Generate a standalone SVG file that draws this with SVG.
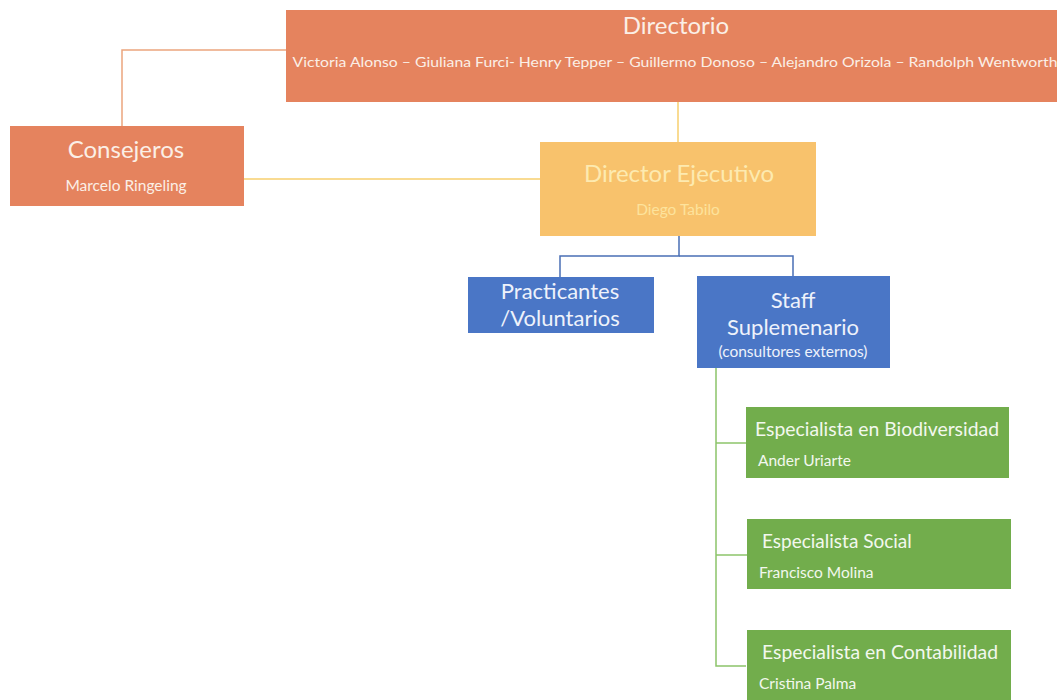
<svg xmlns="http://www.w3.org/2000/svg" width="1057" height="700" viewBox="0 0 1057 700">
<style>
text{font-family:"Lato","Liberation Sans",sans-serif;fill:#fbefe6;text-anchor:middle}
.t{font-size:24px}
.s{font-size:15.5px}
.g text{text-anchor:start;fill:#f2f8ee}
.conn line,.conn polyline{fill:none;stroke-width:1.5}
</style>
<rect width="1057" height="700" fill="#ffffff"/>
<g class="conn">
<polyline points="286,50 122,50 122,126" stroke="#eba57e"/>
<line x1="678" y1="102" x2="678" y2="142" stroke="#f7cf6e"/>
<line x1="244" y1="179" x2="540" y2="179" stroke="#f7cf6e"/>
<polyline points="679,236 679,256 560,256 560,277" stroke="#4a6fb5"/>
<polyline points="679,256 793,256 793,276" stroke="#4a6fb5"/>
<polyline points="716,368 716,666 746,666" stroke="#8cc46a"/>
<line x1="716" y1="443" x2="746" y2="443" stroke="#8cc46a"/>
<line x1="716" y1="555" x2="747" y2="555" stroke="#8cc46a"/>
</g>
<g id="directorio">
<rect x="286" y="10" width="780" height="92" fill="#e5835e"/>
<text class="t" x="676" y="34">Directorio</text>
<text x="675" y="67" style="font-size:14px" textLength="765" lengthAdjust="spacingAndGlyphs">Victoria Alonso – Giuliana Furci- Henry Tepper – Guillermo Donoso – Alejandro Orizola – Randolph Wentworth</text>
</g>
<g id="consejeros">
<rect x="10" y="126" width="234" height="80" fill="#e5835e"/>
<text class="t" x="126" y="158">Consejeros</text>
<text class="s" x="126" y="191">Marcelo Ringeling</text>
</g>
<g id="director-ejecutivo">
<rect x="540" y="142" width="276" height="94" fill="#f8c26c"/>
<text class="t" x="679" y="182" style="fill:#fdeab0">Director Ejecutivo</text>
<text class="s" x="678" y="215" style="fill:#fde39c">Diego Tabilo</text>
</g>
<g id="practicantes">
<rect x="468" y="277" width="186" height="56" fill="#4a76c6"/>
<text x="560" y="299" style="font-size:22px;fill:#eef2fb">Practicantes</text>
<text x="560" y="326" style="font-size:22px;fill:#eef2fb">/Voluntarios</text>
</g>
<g id="staff">
<rect x="697" y="276" width="193" height="92" fill="#4a76c6"/>
<text x="793" y="308" style="font-size:22px;fill:#eef2fb">Staff</text>
<text x="793" y="335" style="font-size:22px;fill:#eef2fb">Suplemenario</text>
<text x="793" y="357" style="font-size:15.5px;fill:#eef2fb">(consultores externos)</text>
</g>
<g id="esp-biodiversidad" class="g">
<rect x="746" y="407" width="263" height="71" fill="#72ad4c"/>
<text x="755" y="436" style="font-size:19px" textLength="244" lengthAdjust="spacingAndGlyphs">Especialista en Biodiversidad</text>
<text x="758" y="466" style="font-size:15.5px">Ander Uriarte</text>
</g>
<g id="esp-social" class="g">
<rect x="747" y="519" width="264" height="70" fill="#72ad4c"/>
<text x="762" y="548" style="font-size:19px">Especialista Social</text>
<text x="759" y="578" style="font-size:15.5px">Francisco Molina</text>
</g>
<g id="esp-contabilidad" class="g">
<rect x="747" y="630" width="264" height="75" fill="#72ad4c"/>
<text x="762" y="659" style="font-size:19px" textLength="236" lengthAdjust="spacingAndGlyphs">Especialista en Contabilidad</text>
<text x="759" y="689" style="font-size:15.5px">Cristina Palma</text>
</g>
</svg>
